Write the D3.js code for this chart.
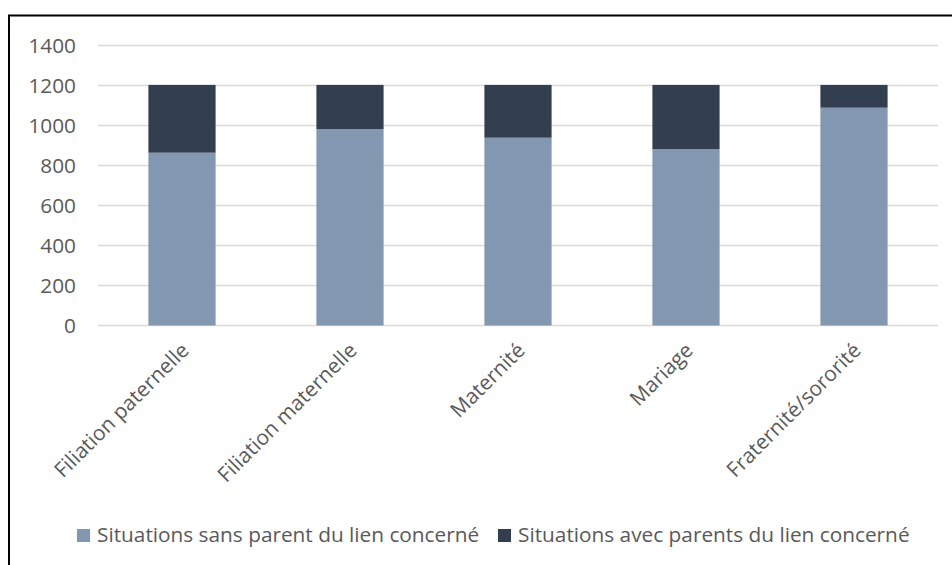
<!DOCTYPE html>
<html>
<head>
<meta charset="utf-8">
<script src="https://cdn.jsdelivr.net/npm/d3@7"></script>
<style>
  html, body { margin: 0; padding: 0; background: #fff; }
  svg { display: block; }
  text { font-family: "Open Sans", Lato, sans-serif; fill: #595959; }
</style>
</head>
<body>
<svg id="chart" width="952" height="565"></svg>
<script>
// Categories and stacked series
const categories = ["Filiation paternelle", "Filiation maternelle", "Maternité", "Mariage", "Fraternité/sororité"];
const sansParent = [864, 982, 939, 882, 1089];
const avecParents = [339, 221, 264, 321, 114];
const seriesNames = ["Situations sans parent du lien concerné", "Situations avec parents du lien concerné"];
const seriesColors = ["#8497B0", "#333F50"];
const yTicks = [0, 200, 400, 600, 800, 1000, 1200, 1400];

const FONT = "'Open Sans', Lato, sans-serif";
const FS = 20.8;
const svg = d3.select("#chart");
const W = 952, H = 565;
const plot = { left: 98, right: 938, top: 45.5, bottom: 325.5 };

svg.append("rect").attr("width", W).attr("height", H).attr("fill", "#fff");

// Outer frame (continues past the right and bottom edges)
svg.append("rect")
  .attr("x", 9).attr("y", 15.5)
  .attr("width", 1000).attr("height", 600)
  .attr("fill", "none").attr("stroke", "#000").attr("stroke-width", 2);

const x = d3.scaleBand()
  .domain(categories)
  .range([plot.left, plot.right])
  .paddingInner(0.6)
  .paddingOuter(0.3);

const y = d3.scaleLinear().domain([0, 1400]).range([plot.bottom, plot.top]);

// Gridlines
svg.append("g")
  .selectAll("line")
  .data(yTicks)
  .join("line")
  .attr("x1", plot.left).attr("x2", plot.right)
  .attr("y1", d => y(d)).attr("y2", d => y(d))
  .attr("stroke", "#D9D9D9").attr("stroke-width", 1.5);

// Y axis labels
const yAxis = d3.axisLeft(y).tickValues(yTicks).tickFormat(d3.format("d")).tickSize(0).tickPadding(0);
const gy = svg.append("g").attr("transform", "translate(76,0)").call(yAxis);
gy.select(".domain").remove();
gy.selectAll("text")
  .attr("font-family", FONT)
  .attr("font-size", FS)
  .attr("fill", "#595959");

// Stacked bars
const rows = categories.map((c, i) => ({ cat: c, s0: sansParent[i], s1: avecParents[i] }));
const stack = d3.stack().keys(["s0", "s1"]);
const layers = stack(rows);

svg.append("g")
  .selectAll("g")
  .data(layers)
  .join("g")
  .attr("fill", (d, i) => seriesColors[i])
  .selectAll("rect")
  .data(d => d)
  .join("rect")
  .attr("x", d => x(d.data.cat))
  .attr("width", x.bandwidth())
  .attr("y", d => y(d[1]))
  .attr("height", d => y(d[0]) - y(d[1]));

// Category labels, rotated
const xAxis = d3.axisBottom(x).tickSize(0).tickPadding(0);
const gx = svg.append("g").attr("transform", `translate(0,${plot.bottom})`).call(xAxis);
gx.select(".domain").remove();
gx.selectAll("text")
  .attr("font-family", FONT)
  .attr("font-size", FS)
  .attr("fill", "#595959")
  .attr("text-anchor", "end")
  .attr("dy", "0.35em")
  .attr("transform", "translate(3,21) rotate(-45)");

// Legend
const legendItems = [
  { name: seriesNames[0], color: seriesColors[0], x: 77 },
  { name: seriesNames[1], color: seriesColors[1], x: 498 }
];
const lg = svg.append("g");
legendItems.forEach(it => {
  lg.append("rect").attr("x", it.x).attr("y", 529).attr("width", 13).attr("height", 13).attr("fill", it.color);
  lg.append("text").attr("x", it.x + 20).attr("y", 535).attr("dy", "0.35em")
    .attr("font-family", FONT).attr("font-size", FS).text(it.name);
});
</script>
</body>
</html>
